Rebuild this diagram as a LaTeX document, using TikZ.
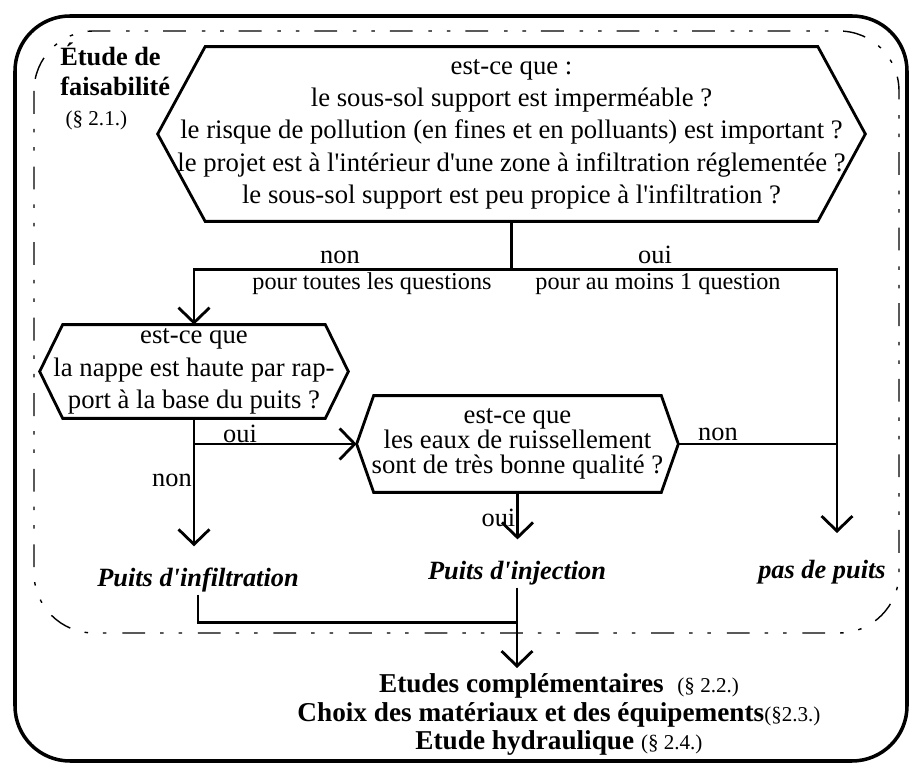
\documentclass[tikz,border=0pt]{standalone}
\usepackage{fontspec}
\setmainfont{Liberation Serif}[Ligatures=TeXOff]
\usetikzlibrary{calc,arrows.meta,positioning}
\newcommand{\hexa}[2]{\draw[hexline] (#1.west) -- ($(#1.north west)+(#2,0)$) -- ($(#1.north east)-(#2,0)$) -- (#1.east) -- ($(#1.south east)-(#2,0)$) -- ($(#1.south west)+(#2,0)$) -- cycle;}
\newcommand{\refpar}[1]{{\normalfont\fontsize{12}{13}\selectfont #1}}

\begin{document}
\begin{tikzpicture}[
  question/.style={font=\fontsize{15.2}{18.4}\selectfont,align=center,inner sep=0pt},
  hexline/.style={line width=1.6pt},
  flow/.style={line width=1.6pt,-{Straight Barb[length=3mm,width=6.2mm]}},
  link/.style={line width=1.6pt},
  answer/.style={font=\fontsize{15}{16}\selectfont,inner sep=1.5pt},
  cond/.style={font=\fontsize{13.8}{15}\selectfont,inner sep=1.5pt},
  result/.style={font=\fontsize{15}{17}\selectfont\bfseries\itshape,inner sep=1pt}]
\useasboundingbox (0,0) rectangle (18.2,-15.34);
% cadre general et zone de faisabilite
\draw[line width=2pt,rounded corners=1.1cm] (0.3,-0.32) rectangle (18.14,-15.22);
\draw[line width=0.8pt,rounded corners=1.2cm,dash pattern=on 13pt off 8.5pt on 2pt off 8.5pt on 2pt off 9pt] (0.68,-0.62) rectangle (17.98,-12.66);
\node[font=\fontsize{15}{17}\selectfont\bfseries,align=left,inner sep=0pt,anchor=north west] (etude) at (1.2,-0.86) {Étude de\\faisabilité\\\refpar{\ (§ 2.1.)}};

% questions
\node[question,minimum width=14.14cm,minimum height=3.48cm] (q1) at (10.23,-2.68) {est-ce que :\\le sous-sol support est imperméable ?\\le risque de pollution (en fines et en polluants) est important ?\\le projet est à l'intérieur d'une zone à infiltration réglementée ?\\le sous-sol support est peu propice à l'infiltration ?};
\hexa{q1}{0.95}
\node[question,minimum width=6.16cm,minimum height=1.86cm] (q2) at (3.88,-7.43) {est-ce que\\la nappe est haute par rap-\\port à la base du puits ?};
\hexa{q2}{0.46}
\node[question,font=\fontsize{15.2}{14.3}\selectfont,minimum width=6.42cm,minimum height=1.92cm] (q3) at (10.35,-8.88) {est-ce que\\les eaux de ruissellement\\sont de très bonne qualité ?};
\hexa{q3}{0.34}

% resultats
\node[result] (r1) at (3.96,-11.61) {Puits d'infiltration};
\node[result] (r2) at (10.34,-11.47) {Puits d'injection};
\node[result] (r3) at (16.44,-11.44) {pas de puits};
\node[font=\fontsize{15.5}{16.4}\selectfont\bfseries,align=center,inner sep=0pt,anchor=north] (fin) at (11.18,-13.46) {Etudes complémentaires \ \refpar{(§ 2.2.)}\\Choix des matériaux et des équipements\refpar{(§2.3.)}\\Etude hydraulique \refpar{(§ 2.4.)}};

% liaisons
\coordinate[below=0.96cm of q1] (split);
\coordinate (rtip) at (16.74,-10.66);
\draw[link] (q1.south) -- (split);
\draw[flow] (split) -| (q2.north);
\draw[flow] (split) -| (rtip);
\draw[flow,shorten >=4mm] (q2.south) -- (q2.south |- r1.north);
\draw[flow] (q2.south |- q3.west) -- (q3.west);
\draw[link] (q3.east) -- (q3.east -| rtip);
\draw[flow,shorten >=4mm] (q3.south) -- (q3.south |- r2.north);
\path (r2.south) ++(0,-0.7) coordinate (join);
\draw[link] (r1.south) |- (join);
\draw[flow,shorten >=1mm] (r2.south) -- (r2.south |- fin.north);

% reponses
\node[answer,anchor=south] (non1) at (6.8,-5.33) {non};
\node[cond,anchor=north] (toutes) at (7.44,-5.4) {pour toutes les questions};
\node[answer,anchor=south] (oui1) at (13.1,-5.33) {oui};
\node[cond,anchor=north] (moins) at (13.16,-5.4) {pour au moins 1 question};
\node[answer,anchor=south,inner sep=0.5pt] (oui2) at (4.8,-8.88) {oui};
\node[answer,anchor=east,inner sep=0.5pt] (non2) at (3.86,-9.6) {non};
\node[answer,anchor=south] (non3) at (14.36,-8.88) {non};
\node[answer,anchor=east,inner sep=0.5pt] (oui3) at (10.33,-10.36) {oui};
\end{tikzpicture}
\end{document}
